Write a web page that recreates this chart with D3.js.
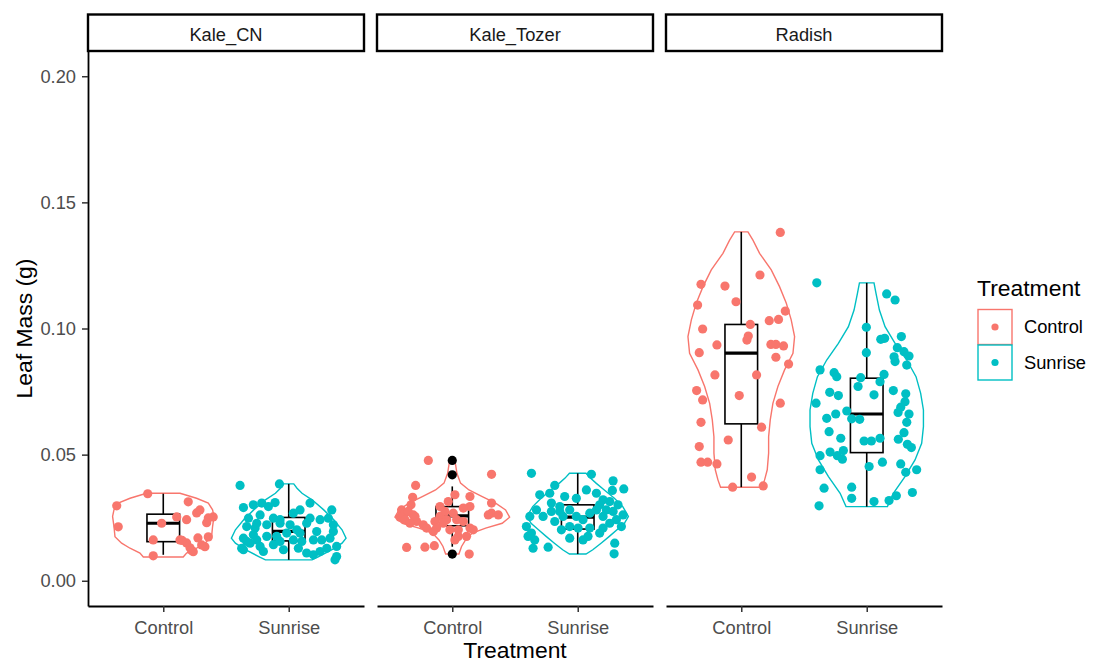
<!DOCTYPE html>
<html>
<head>
<meta charset="utf-8">
<script src="https://cdn.jsdelivr.net/npm/d3@7"></script>
<style>
  body { margin: 0; background: #fff; }
  svg { display: block; font-family: "Liberation Sans", Arial, sans-serif; }
</style>
</head>
<body>
<svg id="chart" width="1096" height="662"></svg>
<script>
// Facets, treatments and axis ticks
const facets = ["Kale_CN", "Kale_Tozer", "Radish"];
const treatments = ["Control", "Sunrise"];
const colors = ["#F8766D", "#00BFC4"];
const yTicks = [0, 0.05, 0.10, 0.15, 0.20];

// Jittered points: [jitter offset (category units), leaf mass (g)]
const kaleCNControl = [[-0.124,0.0345],[-0.371,0.0297],[0.199,0.0313],[0.107,0.0253],[0.186,0.0242],[0.266,0.0269],
  [0.292,0.0281],[0.359,0.0249],[0.398,0.0253],[0.346,0.0230],[-0.013,0.0228],[-0.359,0.0214],[-0.080,0.0162],
  [0.133,0.0162],[0.186,0.0150],[0.276,0.0170],[0.359,0.0174],[0.213,0.0131],[0.239,0.0115],[0.332,0.0135],
  [-0.080,0.0099],[0.226,0.0120],[0.306,0.0142],[0.150,0.0160]];
const kaleCNSunrise = [[-0.388,0.0378],[-0.074,0.0384],[0.170,0.0308],[0.343,0.0281],[-0.361,0.0290],[-0.282,0.0301],
  [-0.215,0.0308],[-0.162,0.0294],[-0.109,0.0310],[0.037,0.0268],[0.090,0.0281],[-0.228,0.0261],[-0.321,0.0248],
  [-0.122,0.0248],[0.170,0.0248],[0.143,0.0228],[0.250,0.0242],[0.316,0.0248],[0.356,0.0222],[-0.335,0.0215],
  [-0.268,0.0209],[-0.175,0.0222],[-0.069,0.0228],[0.011,0.0222],[0.064,0.0202],[0.090,0.0189],[-0.016,0.0189],
  [-0.096,0.0176],[-0.175,0.0176],[-0.282,0.0182],[-0.361,0.0169],[-0.335,0.0156],[-0.255,0.0162],[-0.375,0.0129],
  [-0.308,0.0149],[-0.228,0.0136],[-0.122,0.0143],[-0.069,0.0156],[0.037,0.0162],[0.104,0.0156],[0.197,0.0162],
  [0.263,0.0162],[0.329,0.0169],[0.356,0.0195],[0.382,0.0136],[0.303,0.0129],[0.250,0.0116],[0.197,0.0103],
  [0.143,0.0110],[-0.202,0.0116],[-0.042,0.0123],[0.077,0.0129],[0.382,0.0096],[0.369,0.0083],[-0.361,0.0123],
  [0.223,0.0195],[-0.069,0.0242],[-0.255,0.0228]];
const kaleTozerControl = [[-0.191,0.0477],[0.313,0.0422],[-0.292,0.0378],[-0.316,0.0331],[-0.329,0.0301],[-0.404,0.0281],
  [-0.377,0.0268],[-0.351,0.0275],[-0.311,0.0261],[-0.417,0.0252],[-0.284,0.0235],[-0.231,0.0222],[-0.297,0.0255],
  [-0.377,0.0242],[-0.337,0.0228],[0.021,0.0341],[-0.032,0.0314],[0.141,0.0334],[0.313,0.0308],[0.141,0.0294],
  [0.088,0.0288],[0.313,0.0268],[0.367,0.0261],[0.287,0.0261],[-0.098,0.0255],[-0.045,0.0242],[-0.138,0.0235],
  [-0.072,0.0228],[0.035,0.0242],[0.088,0.0235],[0.141,0.0209],[0.167,0.0202],[0.114,0.0176],[0.048,0.0176],
  [0.021,0.0162],[0.048,0.0202],[-0.019,0.0202],[-0.125,0.0209],[-0.205,0.0209],[-0.151,0.0195],[-0.364,0.0132],
  [-0.218,0.0133],[-0.143,0.0139],[0.135,0.0106],[-0.058,0.0275],[0.008,0.0268],[-0.098,0.0294]];
const kaleTozerSunrise = [[-0.369,0.0426],[0.109,0.0422],[0.282,0.0396],[0.367,0.0364],[0.276,0.0358],[-0.183,0.0378],
  [-0.303,0.0341],[-0.223,0.0347],[-0.104,0.0334],[-0.011,0.0327],[0.069,0.0360],[0.149,0.0347],[0.202,0.0321],
  [0.255,0.0314],[0.321,0.0301],[0.361,0.0261],[0.308,0.0242],[0.348,0.0215],[0.255,0.0228],[0.202,0.0209],
  [0.175,0.0189],[0.082,0.0176],[0.042,0.0162],[-0.064,0.0169],[-0.130,0.0202],[-0.183,0.0235],[-0.276,0.0255],
  [-0.382,0.0255],[-0.409,0.0215],[-0.396,0.0176],[-0.356,0.0129],[-0.236,0.0133],[-0.329,0.0281],[-0.210,0.0308],
  [-0.143,0.0294],[-0.064,0.0281],[-0.011,0.0255],[0.042,0.0242],[0.096,0.0268],[0.149,0.0281],[0.175,0.0301],
  [-0.117,0.0255],[-0.064,0.0215],[0.003,0.0209],[0.096,0.0209],[0.202,0.0255],[0.295,0.0149],[0.290,0.0107],
  [-0.143,0.0275],[-0.210,0.0275],[-0.369,0.0189],[-0.343,0.0162],[0.228,0.0281],[0.282,0.0275]];
const radishControl = [[0.311,0.1381],[-0.321,0.1175],[-0.130,0.1168],[0.149,0.1212],[-0.042,0.1106],[-0.348,0.1093],
  [0.351,0.1069],[0.223,0.1031],[0.297,0.1036],[0.072,0.1016],[-0.308,0.0998],[0.056,0.0970],[0.045,0.0954],
  [-0.194,0.0935],[0.236,0.0937],[0.276,0.0937],[0.337,0.0931],[-0.335,0.0904],[0.276,0.0886],[0.377,0.0859],
  [-0.210,0.0816],[0.122,0.0816],[-0.356,0.0754],[-0.308,0.0717],[-0.016,0.0734],[0.311,0.0704],[-0.321,0.0628],
  [0.162,0.0609],[-0.104,0.0558],[-0.335,0.0532],[-0.321,0.0470],[-0.268,0.0470],[-0.194,0.0463],[0.082,0.0411],
  [-0.069,0.0371],[0.175,0.0376]];
const radishSunrise = [[-0.398,0.1181],[0.159,0.1137],[0.226,0.1113],[-0.003,0.1005],[0.112,0.0957],[0.143,0.0961],
  [0.276,0.0968],[-0.003,0.0904],[0.244,0.0924],[0.297,0.0908],[0.337,0.0891],[0.218,0.0888],[0.319,0.0855],
  [0.226,0.0869],[-0.372,0.0836],[-0.260,0.0825],[-0.239,0.0809],[-0.048,0.0805],[0.138,0.0818],[0.106,0.0789],
  [-0.069,0.0770],[-0.295,0.0747],[-0.226,0.0734],[0.058,0.0737],[0.212,0.0754],[0.311,0.0741],[0.305,0.0710],
  [-0.404,0.0704],[-0.159,0.0673],[-0.247,0.0661],[-0.319,0.0644],[-0.120,0.0642],[-0.056,0.0640],[0.271,0.0688],
  [0.250,0.0667],[0.337,0.0661],[0.319,0.0628],[-0.300,0.0591],[-0.207,0.0565],[-0.021,0.0554],[0.037,0.0554],
  [0.106,0.0565],[0.252,0.0561],[0.297,0.0587],[0.324,0.0541],[0.356,0.0528],[-0.372,0.0496],[-0.292,0.0510],
  [-0.234,0.0496],[-0.186,0.0516],[-0.194,0.0482],[0.125,0.0470],[0.271,0.0463],[0.398,0.0440],[0.019,0.0453],
  [-0.372,0.0440],[0.311,0.0430],[-0.340,0.0367],[-0.120,0.0371],[0.364,0.0350],[-0.120,0.0327],[0.236,0.0337],
  [0.178,0.0318],[0.058,0.0314],[-0.380,0.0297]];

// Boxplot stats: [lower whisker, Q1, median, Q3, upper whisker]
const kaleCNControlBox = [0.0103, 0.0155, 0.0228, 0.0264, 0.0345];
const kaleCNSunriseBox = [0.0083, 0.0158, 0.0196, 0.0251, 0.0384];
const kaleTozerControlBox = [0.0135, 0.0218, 0.0257, 0.0294, 0.0374];
const kaleTozerSunriseBox = [0.0106, 0.0205, 0.0252, 0.0301, 0.0426];
const radishControlBox = [0.0371, 0.0622, 0.0902, 0.1016, 0.1383];
const radishSunriseBox = [0.0294, 0.0508, 0.0661, 0.0803, 0.1181];
const kaleTozerControlOutliers = [0.0477, 0.0420, 0.0106];

// Violin outlines: [leaf mass (g), half width (category units)]
const kaleCNControlViolin = [[0.0347,0.133],[0.0341,0.173],[0.0327,0.265],[0.0308,0.359],[0.0281,0.393],[0.0255,0.404],
  [0.0215,0.393],[0.0175,0.385],[0.0149,0.332],[0.0129,0.265],[0.0110,0.186],[0.0094,0.159]];
const kaleCNSunriseViolin = [[0.0384,0.04],[0.0367,0.066],[0.0347,0.106],[0.0321,0.186],[0.0281,0.279],[0.0242,0.359],
  [0.0202,0.425],[0.0169,0.457],[0.0149,0.425],[0.0123,0.345],[0.0096,0.239],[0.0083,0.186]];
const kaleTozerControlViolin = [[0.0477,0.021],[0.0426,0.037],[0.0387,0.066],[0.0360,0.133],[0.0334,0.239],[0.0308,0.345],
  [0.0281,0.425],[0.0252,0.457],[0.0228,0.398],[0.0209,0.266],[0.0189,0.159],[0.0162,0.106],[0.0136,0.074],[0.0106,0.053]];
const kaleTozerSunriseViolin = [[0.0426,0.066],[0.0407,0.101],[0.0387,0.146],[0.0360,0.212],[0.0327,0.292],[0.0294,0.359],
  [0.0255,0.404],[0.0228,0.372],[0.0202,0.313],[0.0176,0.252],[0.0149,0.186],[0.0123,0.120],[0.0106,0.066]];
const radishControlViolin = [[0.1383,0.053],[0.1350,0.093],[0.1298,0.146],[0.1232,0.239],[0.1166,0.305],[0.1100,0.359],
  [0.1034,0.398],[0.0968,0.425],[0.0902,0.412],[0.0836,0.345],[0.0770,0.292],[0.0703,0.252],[0.0638,0.231],
  [0.0571,0.218],[0.0506,0.218],[0.0440,0.207],[0.0400,0.186],[0.0371,0.165]];
const radishSunriseViolin = [[0.1181,0.058],[0.1139,0.074],[0.1073,0.101],[0.1007,0.146],[0.0941,0.226],[0.0875,0.319],
  [0.0809,0.393],[0.0743,0.430],[0.0677,0.452],[0.0611,0.452],[0.0545,0.438],[0.0479,0.385],[0.0413,0.305],
  [0.0347,0.212],[0.0294,0.165]];

// Put the groups together: one entry per facet and treatment
const groups = [
  { facet: 0, trt: 0, points: kaleCNControl, box: kaleCNControlBox, violin: kaleCNControlViolin, outliers: [] },
  { facet: 0, trt: 1, points: kaleCNSunrise, box: kaleCNSunriseBox, violin: kaleCNSunriseViolin, outliers: [] },
  { facet: 1, trt: 0, points: kaleTozerControl, box: kaleTozerControlBox, violin: kaleTozerControlViolin, outliers: kaleTozerControlOutliers },
  { facet: 1, trt: 1, points: kaleTozerSunrise, box: kaleTozerSunriseBox, violin: kaleTozerSunriseViolin, outliers: [] },
  { facet: 2, trt: 0, points: radishControl, box: radishControlBox, violin: radishControlViolin, outliers: [] },
  { facet: 2, trt: 1, points: radishSunrise, box: radishSunriseBox, violin: radishSunriseViolin, outliers: [] },
];

const svg = d3.select("#chart");
const panelLeft = [88, 377, 666];
const panelW = 276;
const plotTop = 51, plotBottom = 606;
const tickFont = "18.3px", titleFont = "22.9px";
const boxWidth = 0.26;

const y = d3.scaleLinear().domain([-0.01, 0.21]).range([plotBottom, plotTop]);

facets.forEach((name, fi) => {
  const x = d3.scaleLinear().domain([0.4, 2.6]).range([panelLeft[fi], panelLeft[fi] + panelW]);
  const g = svg.append("g");

  // strip
  g.append("rect")
    .attr("x", panelLeft[fi]).attr("y", 14.5)
    .attr("width", panelW).attr("height", 36.5)
    .attr("fill", "#fff").attr("stroke", "#000").attr("stroke-width", 2.4);
  g.append("text")
    .attr("x", panelLeft[fi] + panelW / 2).attr("y", 41)
    .attr("text-anchor", "middle").attr("font-size", tickFont).attr("fill", "#1a1a1a")
    .text(name);

  const line = d3.line().x(d => d[0]).y(d => d[1]);

  groups.filter(d => d.facet === fi).forEach(grp => {
    const c = grp.trt + 1;
    const col = colors[grp.trt];

    // violin: right side down, left side back up
    const right = grp.violin.map(v => [x(c + v[1]), y(v[0])]);
    const left = grp.violin.slice().reverse().map(v => [x(c - v[1]), y(v[0])]);
    g.append("path")
      .attr("d", line(right.concat(left)) + "Z")
      .attr("fill", "none").attr("stroke", col).attr("stroke-width", 1.4);

    // boxplot
    const [lo, q1, med, q3, hi] = grp.box;
    const bx0 = x(c - boxWidth / 2), bx1 = x(c + boxWidth / 2);
    g.append("line").attr("x1", x(c)).attr("x2", x(c)).attr("y1", y(q3)).attr("y2", y(hi))
      .attr("stroke", "#000").attr("stroke-width", 1.6);
    g.append("line").attr("x1", x(c)).attr("x2", x(c)).attr("y1", y(q1)).attr("y2", y(lo))
      .attr("stroke", "#000").attr("stroke-width", 1.6);
    g.append("rect")
      .attr("x", bx0).attr("y", y(q3)).attr("width", bx1 - bx0).attr("height", y(q1) - y(q3))
      .attr("fill", "none").attr("stroke", "#000").attr("stroke-width", 1.6);
    g.append("line").attr("x1", bx0).attr("x2", bx1).attr("y1", y(med)).attr("y2", y(med))
      .attr("stroke", "#000").attr("stroke-width", 3.2);
    grp.outliers.forEach(o => {
      g.append("circle").attr("cx", x(c)).attr("cy", y(o)).attr("r", 4.6).attr("fill", "#000");
    });

    // jittered points
    g.selectAll(null)
      .data(grp.points)
      .enter()
      .append("circle")
      .attr("cx", d => x(c + d[0]))
      .attr("cy", d => y(d[1]))
      .attr("r", 4.6)
      .attr("fill", col);
  });

  // x axis
  const xAxis = g.append("g")
    .attr("transform", `translate(0, ${plotBottom})`)
    .call(d3.axisBottom(x).tickValues([1, 2]).tickFormat(d => treatments[d - 1])
      .tickSize(6).tickSizeOuter(0).tickPadding(9));
  xAxis.select(".domain").attr("stroke", "#000").attr("stroke-width", 1.8);
  xAxis.selectAll(".tick line").attr("stroke", "#333").attr("stroke-width", 1.5);
  xAxis.selectAll(".tick text").attr("font-size", tickFont).attr("fill", "#4d4d4d")
    .attr("font-family", "Liberation Sans, Arial, sans-serif");

  // y axis only on first panel
  if (fi === 0) {
    const yAxis = g.append("g")
      .attr("transform", `translate(${panelLeft[0]}, 0)`)
      .call(d3.axisLeft(y).tickValues(yTicks).tickFormat(d3.format(".2f"))
        .tickSize(6).tickSizeOuter(0).tickPadding(6));
    yAxis.select(".domain").attr("stroke", "#000").attr("stroke-width", 1.8);
    yAxis.selectAll(".tick line").attr("stroke", "#333").attr("stroke-width", 1.5);
    yAxis.selectAll(".tick text").attr("font-size", tickFont).attr("fill", "#4d4d4d")
      .attr("font-family", "Liberation Sans, Arial, sans-serif");
  }
});

// axis titles
svg.append("text")
  .attr("x", (panelLeft[0] + panelLeft[2] + panelW) / 2).attr("y", 658)
  .attr("text-anchor", "middle").attr("font-size", titleFont).attr("fill", "#000")
  .text("Treatment");
svg.append("text")
  .attr("transform", `translate(32, ${(plotTop + plotBottom) / 2}) rotate(-90)`)
  .attr("text-anchor", "middle").attr("font-size", titleFont).attr("fill", "#000")
  .text("Leaf Mass (g)");

// legend
const legend = svg.append("g");
legend.append("text")
  .attr("x", 977).attr("y", 296)
  .attr("font-size", titleFont).attr("fill", "#000")
  .text("Treatment");
treatments.forEach((t, i) => {
  const ky = 309.5 + i * 35.5;
  legend.append("rect")
    .attr("x", 978).attr("y", ky).attr("width", 34).attr("height", 35)
    .attr("fill", "#fff").attr("stroke", colors[i]).attr("stroke-width", 1.4);
  legend.append("circle")
    .attr("cx", 995).attr("cy", ky + 17.5).attr("r", 3.6).attr("fill", colors[i]);
  legend.append("text")
    .attr("x", 1024).attr("y", ky + 17.5).attr("dy", "0.35em")
    .attr("font-size", tickFont).attr("fill", "#000")
    .text(t);
});
</script>
</body>
</html>
